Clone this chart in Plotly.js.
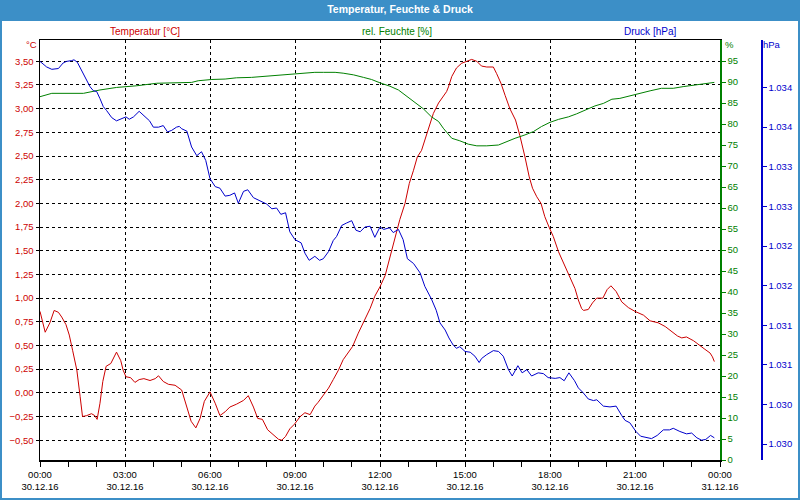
<!DOCTYPE html>
<html>
<head>
<meta charset="utf-8">
<script src="https://cdn.plot.ly/plotly-3.0.1.min.js"></script>
<style>
  html, body { margin: 0; padding: 0; background: #ffffff; }
  #chart { width: 800px; height: 500px; }
</style>
</head>
<body>
<div id="chart"></div>
<script>
// ---- data (30.12.16) ----
const day = "2016-12-30";

const tempTime = ["00:00","00:11","00:21","00:30","00:39","00:46","00:55","01:02","01:09","01:18",
  "01:25","01:30","01:39","01:49","01:56","02:01","02:07","02:13","02:20","02:30",
  "02:42","02:51","02:56","03:02","03:12","03:21","03:30","03:40","03:53","04:04",
  "04:11","04:21","04:32","04:46","05:00","05:11","05:20","05:30","05:39","05:48",
  "06:00","06:11","06:21","06:32","06:42","06:56","07:11","07:21","07:32","07:41",
  "07:51","08:02","08:14","08:25","08:32","08:40","08:49","08:59","09:11","09:21",
  "09:32","09:42","09:49","10:00","10:11","10:21","10:32","10:42","10:53","11:02",
  "11:14","11:28","11:39","11:49","12:00","12:11","12:18","12:25","12:34","12:42",
  "12:53","13:02","13:11","13:19","13:28","13:35","13:44","13:53","14:04","14:14",
  "14:21","14:25","14:32","14:42","14:53","15:04","15:14","15:25","15:35","15:46",
  "16:00","16:07","16:16","16:25","16:35","16:47","16:56","17:07","17:16","17:23",
  "17:32","17:41","17:49","17:58","18:07","18:18","18:26","18:35","18:44","18:53",
  "19:00","19:07","19:11","19:21","19:30","19:39","19:52","20:01","20:09","20:20",
  "20:32","20:46","21:00","21:18","21:32","21:49","22:04","22:18","22:30","22:39",
  "22:49","23:04","23:16","23:28","23:39","23:44","23:48"];
const tempVals = [0.86,0.64,0.74,0.87,0.85,0.80,0.72,0.61,0.45,0.24,
  -0.04,-0.25,-0.24,-0.22,-0.24,-0.28,-0.11,0.12,0.28,0.31,
  0.43,0.34,0.24,0.17,0.16,0.11,0.14,0.15,0.13,0.15,
  0.18,0.12,0.09,0.08,0.03,-0.15,-0.30,-0.37,-0.27,-0.09,
  0.01,-0.11,-0.24,-0.20,-0.15,-0.12,-0.08,-0.03,-0.15,-0.27,
  -0.28,-0.39,-0.44,-0.49,-0.50,-0.46,-0.38,-0.33,-0.25,-0.21,
  -0.23,-0.14,-0.10,-0.02,0.05,0.14,0.24,0.35,0.42,0.49,
  0.63,0.77,0.89,1.02,1.12,1.24,1.37,1.51,1.68,1.83,
  2.00,2.21,2.35,2.49,2.56,2.67,2.83,2.95,3.06,3.13,
  3.18,3.23,3.34,3.43,3.48,3.50,3.52,3.50,3.45,3.44,
  3.44,3.37,3.27,3.14,3.00,2.88,2.72,2.49,2.28,2.16,
  2.07,2.00,1.86,1.75,1.65,1.49,1.40,1.30,1.21,1.10,
  0.98,0.89,0.87,0.88,0.95,1.00,1.00,1.09,1.13,1.07,
  0.96,0.90,0.86,0.82,0.76,0.74,0.70,0.65,0.60,0.58,
  0.59,0.55,0.50,0.46,0.42,0.38,0.33];

const humTime = ["00:00","00:11","00:25","01:32","02:07","02:42","03:25","04:07","04:56","05:21",
  "05:35","06:04","06:32","06:56","07:28","07:49","08:32","09:07","09:42","10:00",
  "10:25","10:42","11:04","11:25","11:42","12:00","12:21","12:39","12:56","13:14",
  "13:32","13:49","14:04","14:14","14:32","14:49","15:07","15:25","15:46","16:11",
  "16:28","16:46","17:07","17:25","17:42","18:00","18:18","18:39","18:56","19:14",
  "19:35","19:53","20:11","20:28","20:49","21:07","21:32","21:56","22:21","22:42",
  "23:07","23:28","23:48"];
const humVals = [86.5,86.9,87.3,87.3,88.1,88.7,89.1,89.7,89.9,89.9,
  90.3,90.6,90.7,91.0,91.1,91.3,91.6,92.1,92.3,92.3,
  92.3,92.1,91.7,91.1,90.6,89.8,89.0,88.1,86.7,85.2,
  83.6,81.7,80.6,79.0,76.6,76.0,75.2,74.8,74.8,75.0,
  75.8,76.6,77.4,78.2,79.4,80.4,81.1,81.7,82.4,83.2,
  84.3,84.9,85.9,86.1,86.7,87.3,87.9,88.5,88.5,88.9,
  89.3,89.7,89.9];

const presTime = ["00:00","00:14","00:25","00:39","00:49","00:56","01:07","01:12","01:19","01:28",
  "01:39","01:46","01:53","02:00","02:07","02:14","02:21","02:32","02:42","02:53",
  "03:02","03:09","03:18","03:30","03:40","03:52","04:00","04:11","04:21","04:30",
  "04:39","04:49","04:55","05:00","05:11","05:21","05:32","05:42","05:51","06:00",
  "06:11","06:21","06:32","06:42","06:52","07:00","07:11","07:20","07:32","07:46",
  "08:00","08:11","08:21","08:30","08:40","08:49","09:00","09:13","09:21","09:30",
  "09:42","09:52","10:00","10:11","10:21","10:28","10:39","10:49","11:00","11:09",
  "11:18","11:28","11:39","11:49","12:00","12:08","12:20","12:28","12:39","12:49",
  "12:58","13:11","13:25","13:35","13:49","13:59","14:07","14:18","14:26","14:35",
  "14:42","14:49","15:00","15:11","15:21","15:30","15:35","15:46","16:00","16:11",
  "16:21","16:32","16:40","16:52","17:01","17:11","17:21","17:35","17:46","17:56",
  "18:11","18:21","18:30","18:40","18:52","19:00","19:10","19:21","19:32","19:39",
  "19:53","20:07","20:20","20:32","20:39","20:49","21:02","21:12","21:23","21:35",
  "21:47","22:00","22:13","22:21","22:35","22:49","23:00","23:11","23:21","23:30",
  "23:40","23:48"];
const presVals = [1034.73,1034.66,1034.63,1034.64,1034.71,1034.73,1034.74,1034.75,1034.72,1034.62,
  1034.49,1034.41,1034.36,1034.35,1034.26,1034.16,1034.11,1034.02,1033.98,1034.01,
  1034.03,1034.00,1034.03,1034.10,1034.05,1033.98,1033.90,1033.90,1033.92,1033.84,
  1033.86,1033.90,1033.91,1033.88,1033.85,1033.65,1033.54,1033.59,1033.48,1033.25,
  1033.15,1033.13,1033.03,1033.04,1033.07,1032.94,1033.09,1033.11,1033.01,1032.97,
  1032.93,1032.87,1032.88,1032.80,1032.82,1032.58,1032.48,1032.44,1032.31,1032.22,
  1032.27,1032.22,1032.24,1032.33,1032.47,1032.52,1032.66,1032.69,1032.72,1032.60,
  1032.58,1032.64,1032.65,1032.51,1032.64,1032.61,1032.63,1032.57,1032.61,1032.48,
  1032.24,1032.18,1032.06,1031.89,1031.73,1031.59,1031.43,1031.34,1031.24,1031.15,
  1031.11,1031.13,1031.07,1031.06,1031.01,1030.93,1030.98,1031.03,1031.08,1031.07,
  1031.01,1030.84,1030.76,1030.89,1030.80,1030.84,1030.76,1030.80,1030.79,1030.74,
  1030.73,1030.74,1030.70,1030.80,1030.70,1030.61,1030.55,1030.47,1030.45,1030.46,
  1030.38,1030.37,1030.38,1030.26,1030.20,1030.17,1030.06,1030.00,1029.99,1029.97,
  1030.01,1030.08,1030.08,1030.10,1030.06,1030.03,1030.04,1029.98,1029.95,1029.96,
  1030.01,1029.98];

// tick positions shown on the two right axes
const humTicks = [0,5,10,15,20,25,30,35,40,45,50,55,60,65,70,75,80,85,90,95];
const presTicks = [1029.9,1030.4,1030.9,1031.4,1031.9,1032.4,1032.9,1033.4,1033.9,1034.4];

const chartTitle = "Temperatur, Feuchte & Druck";
const seriesNames = ["Temperatur [°C]", "rel. Feuchte [%]", "Druck [hPa]"];
const unitLabels = ["°C", "%", "hPa"];

// ---- styling ----
const FONT = "Liberation Sans, Arial, sans-serif";
const RED = "#cc0000", GREEN = "#008000", BLUE = "#0000cc", BAR = "#3c8fc7";
const toDate = t => day + " " + t + ":00";

const traces = [
  { x: humTime.map(toDate), y: humVals, yaxis: "y2", type: "scatter", mode: "lines",
    line: { color: GREEN, width: 1 }, name: seriesNames[1] },
  { x: presTime.map(toDate), y: presVals, yaxis: "y3", type: "scatter", mode: "lines",
    line: { color: BLUE, width: 1 }, name: seriesNames[2] },
  { x: tempTime.map(toDate), y: tempVals, yaxis: "y", type: "scatter", mode: "lines",
    line: { color: RED, width: 1 }, name: seriesNames[0] }
];

// paper geometry: plot from x=40 to 720 px, y=40 to 460 px; paper width 722 px
const PW = 722, PH = 420, L = 40, T = 40;
const px = v => (v - L) / PW;
const py = v => (T + PH - v) / PH;

const layout = {
  width: 800, height: 500,
  margin: { l: 40, r: 38, t: 40, b: 40, pad: 0 },
  separators: ",.",
  paper_bgcolor: "#ffffff",
  plot_bgcolor: "#ffffff",
  showlegend: false,
  font: { family: FONT, size: 9.5, color: "#000000" },
  title: {
    text: chartTitle,
    font: { family: FONT, size: 10.5, color: "#ffffff", weight: "bold" },
    x: 0.5, xref: "container", xanchor: "center",
    y: 1 - 9 / 500, yref: "container", yanchor: "middle"
  },
  xaxis: {
    type: "date",
    domain: [0, 680 / PW],
    range: [day + " 00:00:00", "2016-12-31 00:00:00"],
    tickmode: "linear", tick0: day + " 00:00:00", dtick: 3 * 3600000,
    tickformat: "%H:%M<br>%d.%m.%y",
    tickfont: { family: FONT, size: 9.5, color: "#000000" },
    ticks: "outside", ticklen: 5, tickcolor: "#000000", tickwidth: 1,
    minor: { dtick: 3600000, ticks: "outside", ticklen: 5, tickcolor: "#000000", tickwidth: 1, showgrid: false },
    showline: true, linecolor: "#000000", linewidth: 1.5, mirror: true,
    showgrid: true, gridcolor: "#000000", gridwidth: 1, griddash: "3px,3px",
    zeroline: false, fixedrange: true
  },
  yaxis: {
    range: [-0.709, 3.725],
    tickmode: "linear", tick0: -0.5, dtick: 0.25, tickformat: ".2f",
    tickfont: { family: FONT, size: 9.5, color: RED },
    ticks: "outside", ticklen: 3, tickcolor: "#000000",
    showline: true, linecolor: "#000000", linewidth: 1.5,
    showgrid: true, gridcolor: "#000000", gridwidth: 1, griddash: "3px,3px",
    zeroline: false, fixedrange: true
  },
  yaxis2: {
    overlaying: "y", side: "right", anchor: "x",
    range: [0, 100],
    tickmode: "array", tickvals: humTicks,
    tickfont: { family: FONT, size: 9.5, color: GREEN },
    ticks: "outside", ticklen: 4, tickcolor: GREEN,
    showline: true, linecolor: GREEN, linewidth: 1.5,
    showgrid: false, zeroline: false, fixedrange: true
  },
  yaxis3: {
    overlaying: "y", side: "right", anchor: "free", position: px(761),
    range: [1029.70, 1035.0],
    tickmode: "array", tickvals: presTicks, tickformat: ",.0f",
    tickfont: { family: FONT, size: 9.5, color: BLUE },
    ticks: "outside", ticklen: 4, tickcolor: BLUE,
    showline: true, linecolor: BLUE, linewidth: 1.5,
    showgrid: false, zeroline: false, fixedrange: true
  },
  shapes: [
    { type: "rect", xref: "paper", yref: "paper", layer: "below",
      x0: px(0), x1: px(800), y0: py(21), y1: py(0),
      fillcolor: BAR, line: { width: 0 } },
    { type: "rect", xref: "paper", yref: "paper", layer: "below",
      x0: px(0), x1: px(800), y0: py(500), y1: py(0),
      fillcolor: "rgba(0,0,0,0)", line: { color: BAR, width: 4 } }
  ],
  annotations: [
    { text: seriesNames[0], xref: "paper", yref: "paper", x: px(145), y: py(31),
      xanchor: "center", yanchor: "middle", showarrow: false,
      font: { family: FONT, size: 10, color: RED } },
    { text: seriesNames[1], xref: "paper", yref: "paper", x: px(397), y: py(31),
      xanchor: "center", yanchor: "middle", showarrow: false,
      font: { family: FONT, size: 10, color: GREEN } },
    { text: seriesNames[2], xref: "paper", yref: "paper", x: px(650), y: py(31),
      xanchor: "center", yanchor: "middle", showarrow: false,
      font: { family: FONT, size: 10, color: BLUE } },
    { text: unitLabels[0], xref: "paper", yref: "paper", x: px(31), y: py(45),
      xanchor: "center", yanchor: "middle", showarrow: false,
      font: { family: FONT, size: 9.5, color: RED } },
    { text: unitLabels[1], xref: "paper", yref: "paper", x: px(729), y: py(45),
      xanchor: "center", yanchor: "middle", showarrow: false,
      font: { family: FONT, size: 9.5, color: GREEN } },
    { text: unitLabels[2], xref: "paper", yref: "paper", x: px(772), y: py(45),
      xanchor: "center", yanchor: "middle", showarrow: false,
      font: { family: FONT, size: 9.5, color: BLUE } }
  ]
};

Plotly.newPlot("chart", traces, layout, { staticPlot: true, displayModeBar: false });
</script>
</body>
</html>
